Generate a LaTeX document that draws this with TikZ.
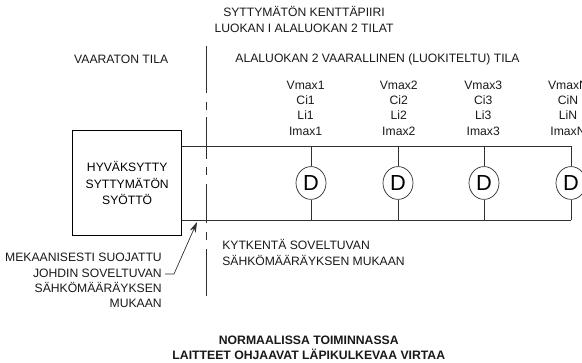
\documentclass[tikz,border=0pt]{standalone}
\usepackage{fontspec}
\setmainfont{Liberation Sans}
\usetikzlibrary{arrows.meta, calc, shapes.geometric}
\definecolor{wire}{HTML}{303030}
\tikzset{
  lbl/.style={font=\fontsize{8.65}{10.9}\selectfont, align=center, inner sep=0pt, text=black!90},
  supplybox/.style={rectangle, draw=black, line width=0.55pt, minimum width=2.72cm, minimum height=2.62cm,
                    align=center, inner sep=0pt, font=\fontsize{8.65}{11.4}\selectfont},
  device/.style={ellipse, draw=wire, fill=white, line width=0.5pt, minimum width=0.75cm, minimum height=0.82cm,
                 inner sep=0pt, font=\fontsize{15.5}{16}\selectfont},
  rail/.style={draw=wire, line width=0.6pt},
  arr/.style={-{Stealth[length=7.5pt, width=4.5pt]}, draw=wire, line width=0.5pt},
}

\begin{document}
\begin{tikzpicture}
  \clip (0, 0) rectangle (14.55, 9.075);
  \fill[white] (0, 0) rectangle (14.55, 9.075);

  \node[lbl] (title) at (7.6, 8.59) {SYTTYMÄTÖN KENTTÄPIIRI\\LUOKAN I ALALUOKAN 2 TILAT};
  \node[lbl] (safe) at (3.03, 7.6) {VAARATON TILA};
  \node[lbl, anchor=west] (hazard) at (5.88, 7.6) {ALALUOKAN 2 VAARALLINEN (LUOKITELTU) TILA};

  \coordinate (bndtop) at (5.15, 7.92);
  \coordinate (bndbot) at (5.15, 1.67);
  \draw[draw=wire, line width=0.5pt, dash pattern=on 33.4pt off 6pt on 5.7pt off 5.4pt on 29.5pt off 6pt on 5.7pt off 6pt on 28.4pt off 6pt on 5.7pt off 6.2pt on 34pt off 60pt]
    (bndtop) -- (bndbot);

  \node[supplybox] (supply) at (3.18, 4.5) {HYVÄKSYTTY\\SYTTYMÄTÖN\\SYÖTTÖ};
  \coordinate (railtop) at (14.275, 5.425);
  \coordinate (railbot) at (14.275, 3.575);
  \draw[rail] (supply.east |- railtop) -- (railtop);
  \draw[rail] (supply.east |- railbot) -- (railbot);

  \foreach \n/\x/\tx/\s in {1/7.775/7.64/1, 2/9.95/9.97/2, 3/12.1/12.08/3, N/14.275/14.2/N} {
    \node[device] (d\n) at (\x, 4.5) {D};
    \draw[rail] (d\n.north) -- (d\n.north |- railtop);
    \draw[rail] (d\n.south) -- (d\n.south |- railbot);
    \node[lbl] (par\n) at (\tx, 6.375) {Vmax\s\\Ci\s\\Li\s\\Imax\s};
  }

  \node[lbl, anchor=west, align=left] (wiring) at (5.55, 2.76) {KYTKENTÄ SOVELTUVAN\\SÄHKÖMÄÄRÄYKSEN MUKAAN};
  \node[lbl, anchor=east, align=right] (protected) at (4.05, 2.06) {MEKAANISESTI SUOJATTU\\JOHDIN SOVELTUVAN\\SÄHKÖMÄÄRÄYKSEN\\MUKAAN};
  \coordinate (leadknee) at (4.35, 2.225);
  \coordinate (leadtip) at (4.925, 3.525);
  \draw[arr] (protected.east |- leadknee) ++(0.08, 0) -- (leadknee) -- (leadtip);

  \node[lbl, font=\fontsize{8.7}{10.7}\selectfont\bfseries] (note) at (7.72, 0.39) {NORMAALISSA TOIMINNASSA\\LAITTEET OHJAAVAT LÄPIKULKEVAA VIRTAA};
\end{tikzpicture}
\end{document}
